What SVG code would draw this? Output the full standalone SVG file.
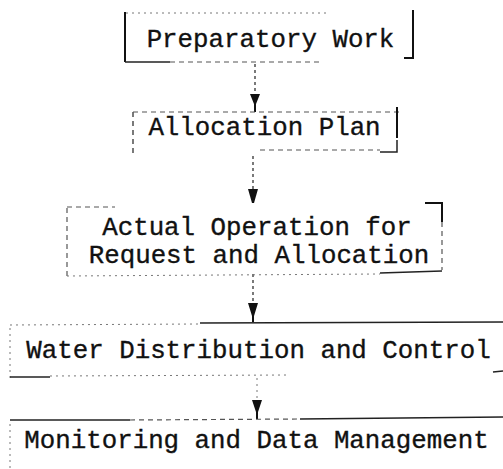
<svg xmlns="http://www.w3.org/2000/svg" width="503" height="469" viewBox="0 0 503 469">
  <style>
    .label { font-family: "Liberation Mono", "DejaVu Sans Mono", monospace; font-size: 25.8px; fill: #111; stroke: #111; stroke-width: 0.35; text-anchor: middle; }
    .bar { stroke: #111; stroke-width: 2; fill: none; }
    .faint { stroke: #555; stroke-width: 1.2; fill: none; stroke-dasharray: 5 4; }
    .dots { stroke: #777; stroke-width: 1; fill: none; stroke-dasharray: 2 4; }
    .solid { stroke: #222; stroke-width: 1.5; fill: none; }
    .stem { stroke: #333; stroke-width: 1.3; fill: none; stroke-dasharray: 3 3; }
    .head { fill: #111; }
  </style>
  <rect width="503" height="469" fill="#fff"/>

  <g id="connectors">
    <line class="stem" x1="255" y1="64" x2="255" y2="96"/>
    <path class="head" d="M250,94 L260,94 L256,104 L256,112 L254,112 L254,104 Z"/>
    <line class="stem" x1="253" y1="156" x2="253" y2="190"/>
    <path class="head" d="M248,189 L258,189 L254,203 L252,203 Z"/>
    <line class="stem" x1="253" y1="274" x2="253" y2="304"/>
    <path class="head" d="M248,303 L258,303 L254,316 L254,322 L252,322 L252,316 Z"/>
    <line class="dots" x1="257" y1="378" x2="257" y2="400"/>
    <path class="head" d="M252,400 L262,400 L258,412 L258,419 L256,419 L256,412 Z"/>
  </g>

  <g id="preparatory-work">
    <line class="bar" x1="125" y1="12" x2="125" y2="62"/>
    <line class="dots" x1="126" y1="13" x2="330" y2="13"/>
    <line class="solid" x1="125" y1="62" x2="170" y2="62"/>
    <line class="faint" x1="170" y1="62" x2="320" y2="62"/>
    <polyline class="bar" points="404,58 413,58 413,10"/>
    <text class="label" x="270.5" y="47">Preparatory Work</text>
  </g>

  <g id="allocation-plan">
    <line class="faint" x1="133" y1="112" x2="133" y2="155" style="stroke:#222"/>
    <line class="faint" x1="133" y1="112" x2="400" y2="112"/>
    <line class="faint" x1="260" y1="150" x2="380" y2="150"/>
    <line class="bar" x1="397" y1="107" x2="397" y2="138"/>
    <polyline class="solid" points="380,152 397,152 397,140"/>
    <text class="label" x="264.5" y="135">Allocation Plan</text>
  </g>

  <g id="actual-operation">
    <line class="faint" x1="67" y1="208" x2="67" y2="278"/>
    <line class="faint" x1="67" y1="207" x2="115" y2="207"/>
    <polyline class="bar" points="425,203 442,203 442,222"/>
    <line class="faint" x1="442" y1="222" x2="442" y2="270"/>
    <line class="dots" x1="67" y1="276" x2="380" y2="274"/>
    <line class="solid" x1="380" y1="273" x2="442" y2="271"/>
    <text class="label" x="257" y="235">Actual Operation for</text>
    <text class="label" x="259" y="263">Request and Allocation</text>
  </g>

  <g id="water-distribution">
    <line class="dots" x1="10" y1="325" x2="200" y2="324"/>
    <line class="solid" x1="200" y1="323" x2="503" y2="322"/>
    <line class="dots" x1="10" y1="328" x2="10" y2="378"/>
    <line class="solid" x1="10" y1="377" x2="50" y2="377"/>
    <line class="dots" x1="50" y1="376" x2="290" y2="375"/>
    <line class="solid" x1="493" y1="372" x2="503" y2="371"/>
    <text class="label" x="258.5" y="358">Water Distribution and Control</text>
  </g>

  <g id="monitoring">
    <line class="solid" x1="10" y1="420" x2="130" y2="420"/>
    <line class="faint" x1="130" y1="420" x2="300" y2="419"/>
    <line class="solid" x1="300" y1="419" x2="503" y2="417"/>
    <line class="dots" x1="10" y1="424" x2="10" y2="469"/>
    <text class="label" x="256.5" y="448">Monitoring and Data Management</text>
  </g>
</svg>
